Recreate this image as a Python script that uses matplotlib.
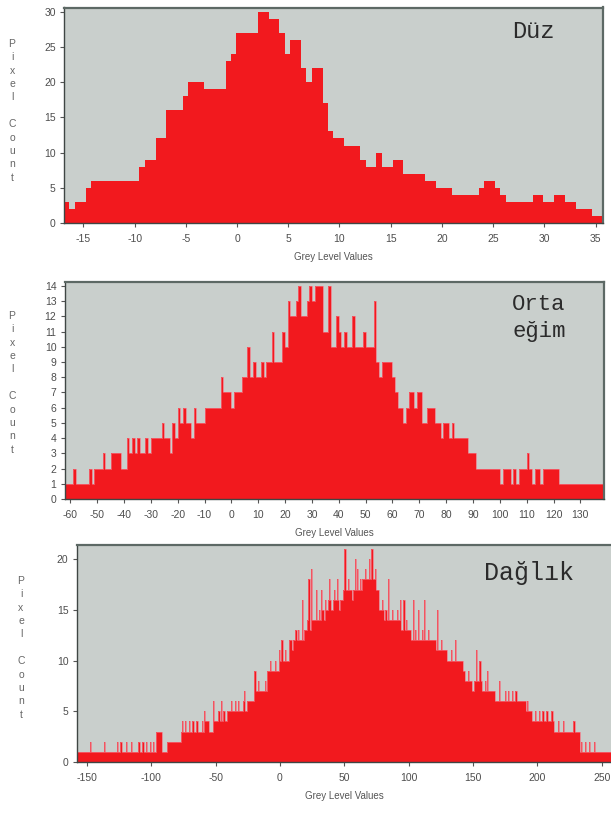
import numpy as np
import matplotlib.pyplot as plt

plt.rcParams['font.family'] = ['Liberation Sans', 'DejaVu Sans']
plt.rcParams['axes.unicode_minus'] = False

# ---------------------------------#
#   Düz: 100 bins between the axis limits
# ---------------------------------#
duz_range = (-16.9, 35.7)
duz_counts = [3, 2, 3, 3, 5,
              6, 6, 6, 6, 6, 6, 6, 6, 6,
              8, 9, 9, 12, 12, 16, 16, 16, 18, 20, 20, 20, 19, 19, 19, 19,
              23, 24, 27, 27, 27, 27, 30, 30, 29, 29, 27, 24, 26, 26, 22, 20, 22, 22, 17, 13,
              12, 12, 11, 11, 11, 9, 8, 8, 10, 8, 8, 9, 9, 7, 7, 7, 7, 6, 6, 5,
              5, 5, 4, 4, 4, 4, 4, 5, 6, 6, 5, 4, 3, 3, 3, 3, 3, 4, 4, 3,
              3, 4, 4, 3, 3, 2, 2, 2, 1, 1]

# ---------------------------------#
#   Orta eğim: one bin per grey level, from -63
# ---------------------------------#
orta_start = -63
orta_counts = [1, 1, 1, 1, 2, 1, 1, 1, 1, 1,
               2, 1, 2, 2, 2, 3, 2, 2, 3, 3,
               3, 3, 2, 2, 4, 3, 4, 3, 4, 3,
               3, 4, 3, 4, 4, 4, 4, 5, 4, 4,
               3, 5, 4, 6, 5, 6, 5, 5, 4, 6,
               5, 5, 5, 6, 6, 6, 6, 6, 6, 8,
               7, 7, 7, 6, 7, 7, 7, 8, 8, 10,
               8, 9, 8, 8, 9, 8, 9, 9, 11, 9,
               9, 9, 11, 10, 13, 12, 12, 13, 14, 12,
               12, 13, 14, 13, 14, 14, 14, 11, 11, 14,
               10, 10, 12, 11, 10, 11, 10, 10, 12, 10,
               10, 10, 11, 10, 10, 10, 13, 9, 8, 9,
               9, 9, 9, 8, 7, 6, 6, 5, 6, 7,
               7, 6, 7, 7, 5, 5, 6, 6, 6, 5,
               5, 4, 5, 5, 4, 5, 4, 4, 4, 4,
               4, 3, 3, 3, 2, 2, 2, 2, 2, 2,
               2, 2, 2, 1, 2, 2, 2, 1, 2, 1,
               2, 2, 2, 3, 2, 1, 2, 2, 1, 2,
               2, 2, 2, 2, 2, 1, 1, 1, 1, 1,
               1, 1, 1, 1, 1, 1, 1, 1, 1, 1, 1, 1]

# ---------------------------------#
#   Dağlık: one bin per grey level, from -159
# ---------------------------------#
daglik_start = -159
daglik_counts = [1, 1, 1, 1, 1, 1, 1, 1, 1, 1,
                 1, 2, 1, 1, 1, 1, 1, 1, 1, 1,
                 1, 1, 2, 1, 1, 1, 1, 1, 1, 1,
                 1, 1, 2, 1, 1, 2, 1, 1, 1, 2,
                 1, 1, 1, 2, 1, 1, 1, 1, 1, 2,
                 1, 1, 2, 1, 1, 2, 1, 1, 2, 1,
                 2, 1, 1, 3, 3, 3, 3, 1, 1, 1,
                 1, 2, 2, 2, 2, 2, 2, 2, 2, 2,
                 2, 2, 3, 4, 3, 4, 3, 3, 4, 3,
                 3, 4, 3, 3, 4, 3, 3, 3, 4, 3,
                 5, 4, 4, 4, 3, 3, 3, 6, 4, 4,
                 4, 5, 4, 6, 4, 5, 4, 4, 5, 5,
                 5, 6, 5, 5, 6, 5, 6, 5, 5, 5,
                 6, 7, 5, 6, 6, 6, 6, 6, 6, 9,
                 7, 7, 8, 7, 7, 7, 7, 8, 7, 9,
                 9, 10, 9, 9, 9, 10, 9, 9, 11, 10,
                 12, 10, 10, 11, 10, 10, 12, 12, 11, 12,
                 12, 13, 12, 13, 12, 12, 16, 12, 13, 13,
                 14, 18, 13, 19, 14, 14, 14, 17, 14, 15,
                 14, 17, 15, 14, 16, 15, 16, 18, 16, 15,
                 16, 17, 16, 18, 16, 15, 16, 16, 17, 21,
                 17, 17, 18, 17, 17, 16, 17, 20, 17, 19,
                 17, 18, 17, 18, 18, 19, 18, 18, 20, 18,
                 21, 18, 18, 19, 17, 17, 15, 15, 16, 15,
                 14, 15, 14, 18, 14, 14, 15, 14, 14, 14,
                 15, 14, 16, 13, 13, 16, 13, 14, 13, 13,
                 13, 12, 16, 12, 13, 12, 15, 12, 12, 13,
                 12, 16, 12, 12, 13, 12, 12, 12, 12, 12,
                 11, 15, 11, 11, 12, 11, 11, 11, 11, 10,
                 10, 10, 11, 10, 10, 12, 10, 10, 10, 10,
                 10, 9, 9, 8, 8, 9, 8, 8, 7, 7,
                 8, 11, 8, 8, 10, 8, 7, 7, 8, 7,
                 9, 7, 7, 7, 7, 7, 6, 6, 6, 8,
                 6, 6, 6, 6, 7, 6, 7, 6, 6, 7,
                 6, 6, 7, 6, 6, 6, 6, 6, 6, 6,
                 5, 6, 5, 5, 5, 4, 4, 5, 4, 4,
                 5, 4, 4, 5, 4, 4, 5, 4, 4, 4,
                 5, 4, 3, 3, 3, 4, 3, 3, 3, 4,
                 3, 3, 3, 3, 3, 3, 3, 4, 3, 3,
                 3, 3, 1, 2, 1, 1, 2, 1, 1, 2,
                 1, 1, 1, 2, 1, 1, 1, 1, 1, 1,
                 1, 1, 1, 1, 1, 1, 1]

titles = ["Düz", "Orta\neğim", "Dağlık"]
ylabel_text = "\n".join(list("Pixel") + [""] + list("Count"))

red = '#f2191e'
pink = '#f2707e'
bg = '#c9cfcc'

fig = plt.figure(figsize=(6.11, 8.14), dpi=100)


def panel(rect, edges, counts, xlim, ylim, xticks, yticks, edge_lw=0):
    ax = fig.add_axes(rect)
    ax.set_facecolor(bg)
    ax.stairs(counts, edges, fill=True, color=red, lw=0)
    if edge_lw:
        # thin light outline: narrow spikes look pale like in the scan
        ax.stairs(counts, edges, color=pink, lw=edge_lw, baseline=None)
    ax.set_xlim(*xlim)
    ax.set_ylim(*ylim)
    ax.set_xticks(xticks)
    ax.set_yticks(yticks)
    ax.tick_params(direction='out', length=3, width=0.8, color='#555555',
                   labelsize=7.5, labelcolor='#4d4d4d')
    ax.tick_params(axis='x', pad=5)
    ax.tick_params(axis='y', pad=3)
    for s in ['left', 'bottom']:
        ax.spines[s].set_color('#3f4644')
        ax.spines[s].set_linewidth(1.0)
    for s in ['top', 'right']:
        ax.spines[s].set_color('#5d6965')
        ax.spines[s].set_linewidth(1.6)
    ax.set_xlabel("Grey Level Values", fontsize=7, color='#555555', labelpad=6)
    return ax


# panel 1
e1 = np.linspace(duz_range[0], duz_range[1], len(duz_counts) + 1)
ax1 = panel([64 / 611, 1 - 223 / 814, 538.7 / 611, 215.5 / 814], e1, duz_counts,
            (-16.9, 35.7), (0, 30.6), np.arange(-15, 36, 5), np.arange(0, 31, 5))

# panel 2
e2 = orta_start + np.arange(len(orta_counts) + 1)
ax2 = panel([64.7 / 611, 1 - 499 / 814, 539 / 611, 217.3 / 814], e2, orta_counts,
            (-62.1, 138.7), (0, 14.28), np.arange(-60, 131, 10), np.arange(0, 15, 1),
            edge_lw=0.5)

# panel 3
e3 = daglik_start + np.arange(len(daglik_counts) + 1)
ax3 = panel([76.7 / 611, 1 - 762 / 814, 536 / 611, 217 / 814], e3, daglik_counts,
            (-158, 258.6), (0, 21.4), np.arange(-150, 251, 50), np.arange(0, 21, 5),
            edge_lw=0.5)

# stacked y labels
for x, y in [(12, 39), (12, 311), (21, 576)]:
    fig.text(x / 611, 1 - y / 814, ylabel_text, ha='center', va='top',
             fontsize=7.5, color='#666666', linespacing=1.42)

# panel names
mono = ['Liberation Mono', 'DejaVu Sans Mono']
fig.text(512 / 611, 1 - 31 / 814, titles[0], family=mono, fontsize=17,
         color='#2b2b2b', ha='left', va='center')
lines = titles[1].split("\n")
fig.text(512 / 611, 1 - 305 / 814, lines[0], family=mono, fontsize=16,
         color='#2b2b2b', ha='left', va='center')
fig.text(512 / 611, 1 - 331 / 814, lines[1], family=mono, fontsize=16,
         color='#2b2b2b', ha='left', va='center')
fig.text(484 / 611, 1 - 573 / 814, titles[2], family=mono, fontsize=18,
         color='#2b2b2b', ha='left', va='center')

fig.savefig("out.png", dpi=100, facecolor='white')
